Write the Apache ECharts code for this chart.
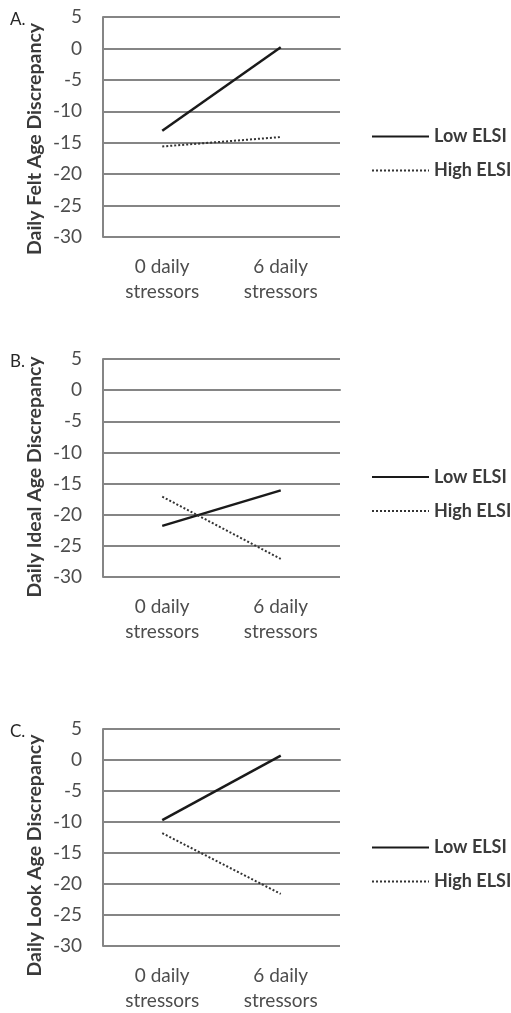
<!DOCTYPE html>
<html>
<head>
<meta charset="utf-8">
<script src="https://cdn.jsdelivr.net/npm/echarts@6/dist/echarts.min.js"></script>
<style>
html,body{margin:0;padding:0;background:#fff;}
#chart{width:511px;height:1013px;}
</style>
</head>
<body>
<div id="chart"></div>
<script>
const categories = ['0 daily\nstressors', '6 daily\nstressors'];
const seriesNames = ['Low ELSI', 'High ELSI'];
const panelLabels = ['A.', 'B.', 'C.'];
const yTitles = ['Daily Felt Age Discrepancy', 'Daily Ideal Age Discrepancy', 'Daily Look Age Discrepancy'];
const feltLow = [-13.1, 0.2];
const feltHigh = [-15.6, -14.1];
const idealLow = [-21.8, -16.1];
const idealHigh = [-17.1, -27.1];
const lookLow = [-9.7, 0.7];
const lookHigh = [-11.8, -21.6];
const yMin = -30, yMax = 5, yStep = 5;

const panelData = [[feltLow, feltHigh], [idealLow, idealHigh], [lookLow, lookHigh]];
const gridTops = [17, 359, 729];
const gridHeights = [220, 218, 217];
const legendTops = [127.5, 468, 838.5];
const titlePad = [24, 18, 36];

const FONT = 'Lato';
const grid = [], xAxis = [], yAxis = [], series = [], legend = [], graphic = [];
for (let i = 0; i < 3; i++) {
  grid.push({left: 103, width: 237, top: gridTops[i], height: gridHeights[i]});
  xAxis.push({
    type: 'category', gridIndex: i, data: categories, boundaryGap: true,
    axisLine: {show: true, lineStyle: {color: '#858585', width: 2}},
    axisTick: {show: false},
    axisLabel: {color: '#4d4d4d', fontFamily: FONT, fontSize: 19, lineHeight: 25, margin: 17}
  });
  yAxis.push({
    type: 'value', gridIndex: i, min: yMin, max: yMax, interval: yStep,
    name: yTitles[i], nameLocation: 'middle', nameRotate: 90, nameGap: 58,
    nameTextStyle: {color: '#3a3a3a', fontFamily: FONT, fontSize: 19.5, fontWeight: 'bold', padding: [0, titlePad[i], 0, 0]},
    axisLine: {show: true, lineStyle: {color: '#858585', width: 2}},
    axisTick: {show: false},
    splitLine: {show: true, lineStyle: {color: '#858585', width: 2}},
    axisLabel: {color: '#4d4d4d', fontFamily: FONT, fontSize: 19, margin: 21}
  });
  series.push({
    name: seriesNames[0], type: 'line', xAxisIndex: i, yAxisIndex: i,
    data: panelData[i][0], symbol: 'none',
    lineStyle: {color: '#1a1a1a', width: 2.5, type: 'solid'}, itemStyle: {color: '#1a1a1a'}
  });
  series.push({
    name: seriesNames[1], type: 'line', xAxisIndex: i, yAxisIndex: i,
    data: panelData[i][1], symbol: 'none',
    lineStyle: {color: '#333333', width: 2, type: [2, 2]}, itemStyle: {color: '#333333'}
  });
  legend.push({
    orient: 'vertical', left: 371, top: legendTops[i], padding: 0,
    data: seriesNames, itemWidth: 57, itemHeight: 19, itemGap: 16,
    itemStyle: {opacity: 0, borderWidth: 0},
    textStyle: {color: '#3a3a3a', fontFamily: FONT, fontSize: 18, fontWeight: 'bold'},
    selectedMode: false
  });
  graphic.push({
    type: 'text', left: 10, top: gridTops[i] - 6,
    style: {text: panelLabels[i], fill: '#262626', font: '17px ' + FONT}
  });
}

const chart = echarts.init(document.getElementById('chart'));
chart.setOption({
  animation: false,
  backgroundColor: '#ffffff',
  grid, xAxis, yAxis, series, legend, graphic
});
</script>
</body>
</html>
